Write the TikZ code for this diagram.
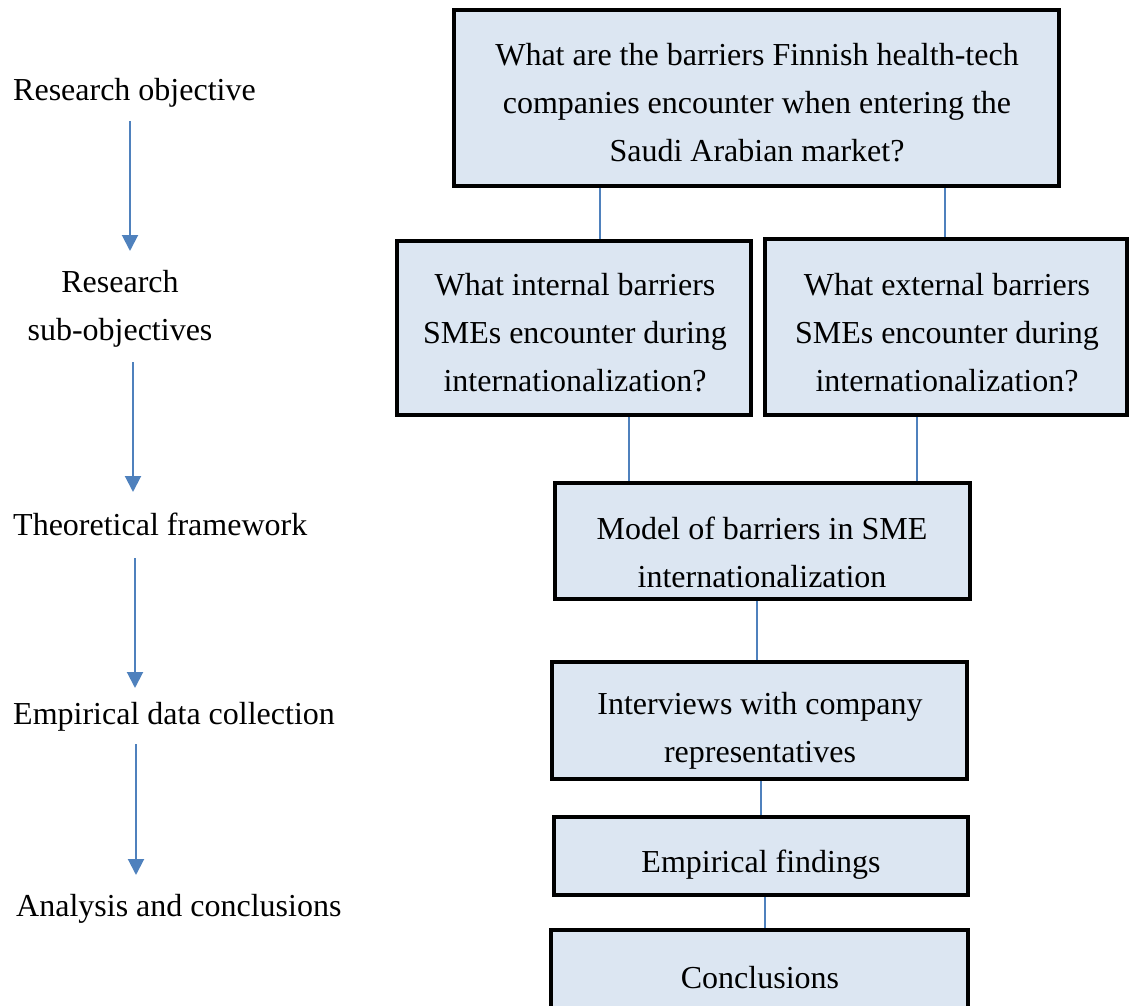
\documentclass[tikz,border=0pt]{standalone}
\usepackage{fontspec}
\setmainfont{Liberation Serif}
\usetikzlibrary{arrows.meta}
\definecolor{boxfill}{HTML}{DCE6F2}
\definecolor{linkblue}{HTML}{4F81BD}
\tikzset{
  box/.style={draw=black, line width=4pt, fill=boxfill, inner sep=0pt},
  txt/.style={font=\fontsize{32}{48}\selectfont, align=center, inner sep=0pt, yshift=-3pt},
  link/.style={draw=linkblue, line width=1.5pt},
  flow/.style={draw=linkblue, line width=2pt, -{Triangle[width=16pt,length=16pt]}}
}
\begin{document}
\begin{tikzpicture}[x=1pt,y=-1pt]
\useasboundingbox (0,0) rectangle (1133,1006);
\clip (0,0) rectangle (1133,1006);
% boxes
\node[box, minimum width=605pt, minimum height=176pt] (top) at (756.5,98) {};
\node[box, minimum width=354pt, minimum height=174pt] (int) at (574,328) {};
\node[box, minimum width=362pt, minimum height=176pt] (ext) at (946,327) {};
\node[box, minimum width=415pt, minimum height=116pt] (model) at (762.5,541) {};
\node[box, minimum width=415pt, minimum height=117pt] (intv) at (759.5,720.5) {};
\node[box, minimum width=414pt, minimum height=78pt] (find) at (761,856) {};
\node[box, minimum width=417pt, minimum height=84pt] (concl) at (759.5,972) {};
% box texts
\node[txt] (toptxt) at (757,100) {What are the barriers Finnish health-tech\\companies encounter when entering the\\Saudi Arabian market?};
\node[txt] (inttxt) at (575,330) {What internal barriers\\SMEs encounter during\\internationalization?};
\node[txt] (exttxt) at (947,330) {What external barriers\\SMEs encounter during\\internationalization?};
\node[txt] (modeltxt) at (762,549) {Model of barriers in SME\\internationalization};
\node[txt] (intvtxt) at (760,728) {Interviews with company\\representatives};
\node[txt] (findtxt) at (761,862) {Empirical findings};
\node[txt] (concltxt) at (760,975) {Conclusions};
% connectors
\draw[link] (top.south -| 600,0) -- (int.north -| 600,0);
\draw[link] (top.south -| 945,0) -- (ext.north -| 945,0);
\draw[link] (int.south -| 629,0) -- (model.north -| 629,0);
\draw[link] (ext.south -| 917,0) -- (model.north -| 917,0);
\draw[link] (model.south -| 757,0) -- (intv.north -| 757,0);
\draw[link] (intv.south -| 761,0) -- (find.north -| 761,0);
\draw[link] (find.south -| 765,0) -- (concl.north -| 765,0);
% left column
\node[txt, anchor=west] (l1) at (13,90) {Research objective};
\node[txt] (l2) at (120,306) {Research\\sub-objectives};
\node[txt, anchor=west] (l3) at (13,521) {Theoretical framework};
\node[txt, anchor=west] (l4) at (13,714) {Empirical data collection};
\node[txt, anchor=west] (l5) at (16,906) {Analysis and conclusions};
\coordinate (a1s) at (130,121); \coordinate (a1e) at (130,251);
\coordinate (a2s) at (133,362); \coordinate (a2e) at (133,492);
\coordinate (a3s) at (135,558); \coordinate (a3e) at (135,688);
\coordinate (a4s) at (136,744); \coordinate (a4e) at (136,875);
\draw[flow] (a1s) -- (a1e);
\draw[flow] (a2s) -- (a2e);
\draw[flow] (a3s) -- (a3e);
\draw[flow] (a4s) -- (a4e);
\end{tikzpicture}
\end{document}
